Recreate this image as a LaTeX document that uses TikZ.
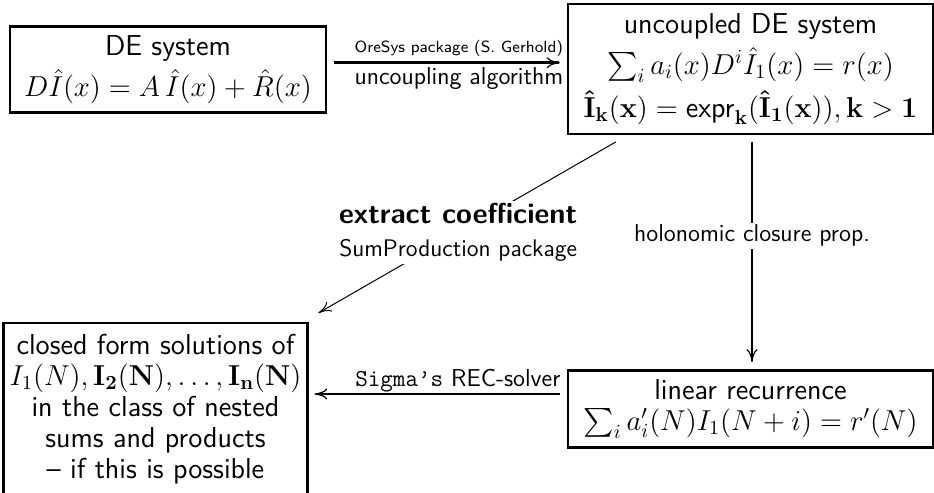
\documentclass[tikz,border=0pt]{standalone}
\usepackage{exscale}
\usepackage[no-math]{fontspec}
\usetikzlibrary{arrows.meta}
\newcommand\boxfnt{\sffamily\fontsize{14.4}{15.5}\selectfont\setlength{\lineskip}{4pt}}
\tikzset{
  box/.style={draw, line width=1.2pt, align=center, inner xsep=2.5pt, inner ysep=4.5pt, font=\boxfnt},
  boxtext/.style={align=center, inner xsep=2.5pt, inner ysep=5.5pt, font=\boxfnt},
  boxline/.style={draw, line width=1.2pt},
  lbl/.style={font=\sffamily\fontsize{12.2}{14}\selectfont, inner sep=2pt},
  smalllbl/.style={font=\sffamily\fontsize{8.1}{10}\selectfont, inner sep=2pt},
  bigarrow/.style={line width=1.3pt, -{To[line width=0.6pt,length=6.5pt,width=5.5pt]},
    shorten <=3.5pt, shorten >=3.5pt},
  thinarrow/.style={line width=0.5pt, -{To[line width=0.5pt,length=6.5pt,width=5.5pt]}},
}
\begin{document}
\begin{tikzpicture}[x=0.5pt,y=-0.5pt]
\useasboundingbox (0,0) rectangle (934,493);
\clip (0,0) rectangle (934,493);
\node[box, inner xsep=7pt] (de) at (168,69.5) {DE system\\ $D\hat I(x) = A\,\hat I(x)+\hat R(x)$};
\node[box, minimum width=182.5pt] (unc) at (750.5,69)
  {uncoupled DE system\\ $\sum_i a_i(x)D^i\hat I_1(x)=r(x)$\\
   $\mathbf{\hat I_k(x)}=\mathsf{expr}_{\mathbf k}(\mathbf{\hat I_1(x)}),\mathbf{k>1}$};
\node[boxtext, anchor=north, minimum width=151.5pt] (cf) at (155.5,323)
  {closed form solutions of\\ $I_1(N),\mathbf{I_2(N)},\ldots,\mathbf{I_n(N)}$\\
   in the class of nested\\ sums and products\\ – if this is possible};
\draw[boxline] (cf.north west) rectangle ([yshift=-20pt]cf.south east);
\node[box, minimum width=182.5pt] (lin) at (750.5,409)
  {linear recurrence\\ $\sum_i a'_i(N)I_1(N+i)=r'(N)$};
% top arrow
\draw[bigarrow] ([yshift=3.4pt]de.east) -- ([yshift=3.4pt]de.east -| unc.west)
  node[smalllbl, above, pos=0.55, yshift=0.5pt] {OreSys package (S. Gerhold)}
  node[lbl, below, pos=0.55] {uncoupling algorithm};
% vertical arrow
\draw[bigarrow] ([xshift=0.75pt]unc.south) -- ([xshift=0.75pt]unc.south |- lin.north)
  node[lbl, fill=white, pos=0.43, inner sep=1pt] {holonomic closure prop.};
% bottom arrow
\draw[bigarrow] ([yshift=7.5pt]lin.west) -- ([yshift=7.5pt]lin.west -| cf.east)
  node[lbl, above, pos=0.42, inner sep=0.5pt] {\texttt{Sigma’s} REC-solver};
% diagonal arrow
\coordinate (d1) at ([shift={(24.5pt,-3.5pt)}]unc.south west);
\coordinate (d2) at ([shift={(5.5pt,5pt)}]cf.north east);
\draw[thinarrow] (d1) -- (d2)
  node[pos=0.53, fill=white, align=center, inner sep=1pt,
       font=\sffamily\fontsize{14.4}{15.5}\selectfont]
  {\bfseries extract coefficient\\[1pt] \fontsize{12}{14}\selectfont SumProduction package};
\end{tikzpicture}
\end{document}
